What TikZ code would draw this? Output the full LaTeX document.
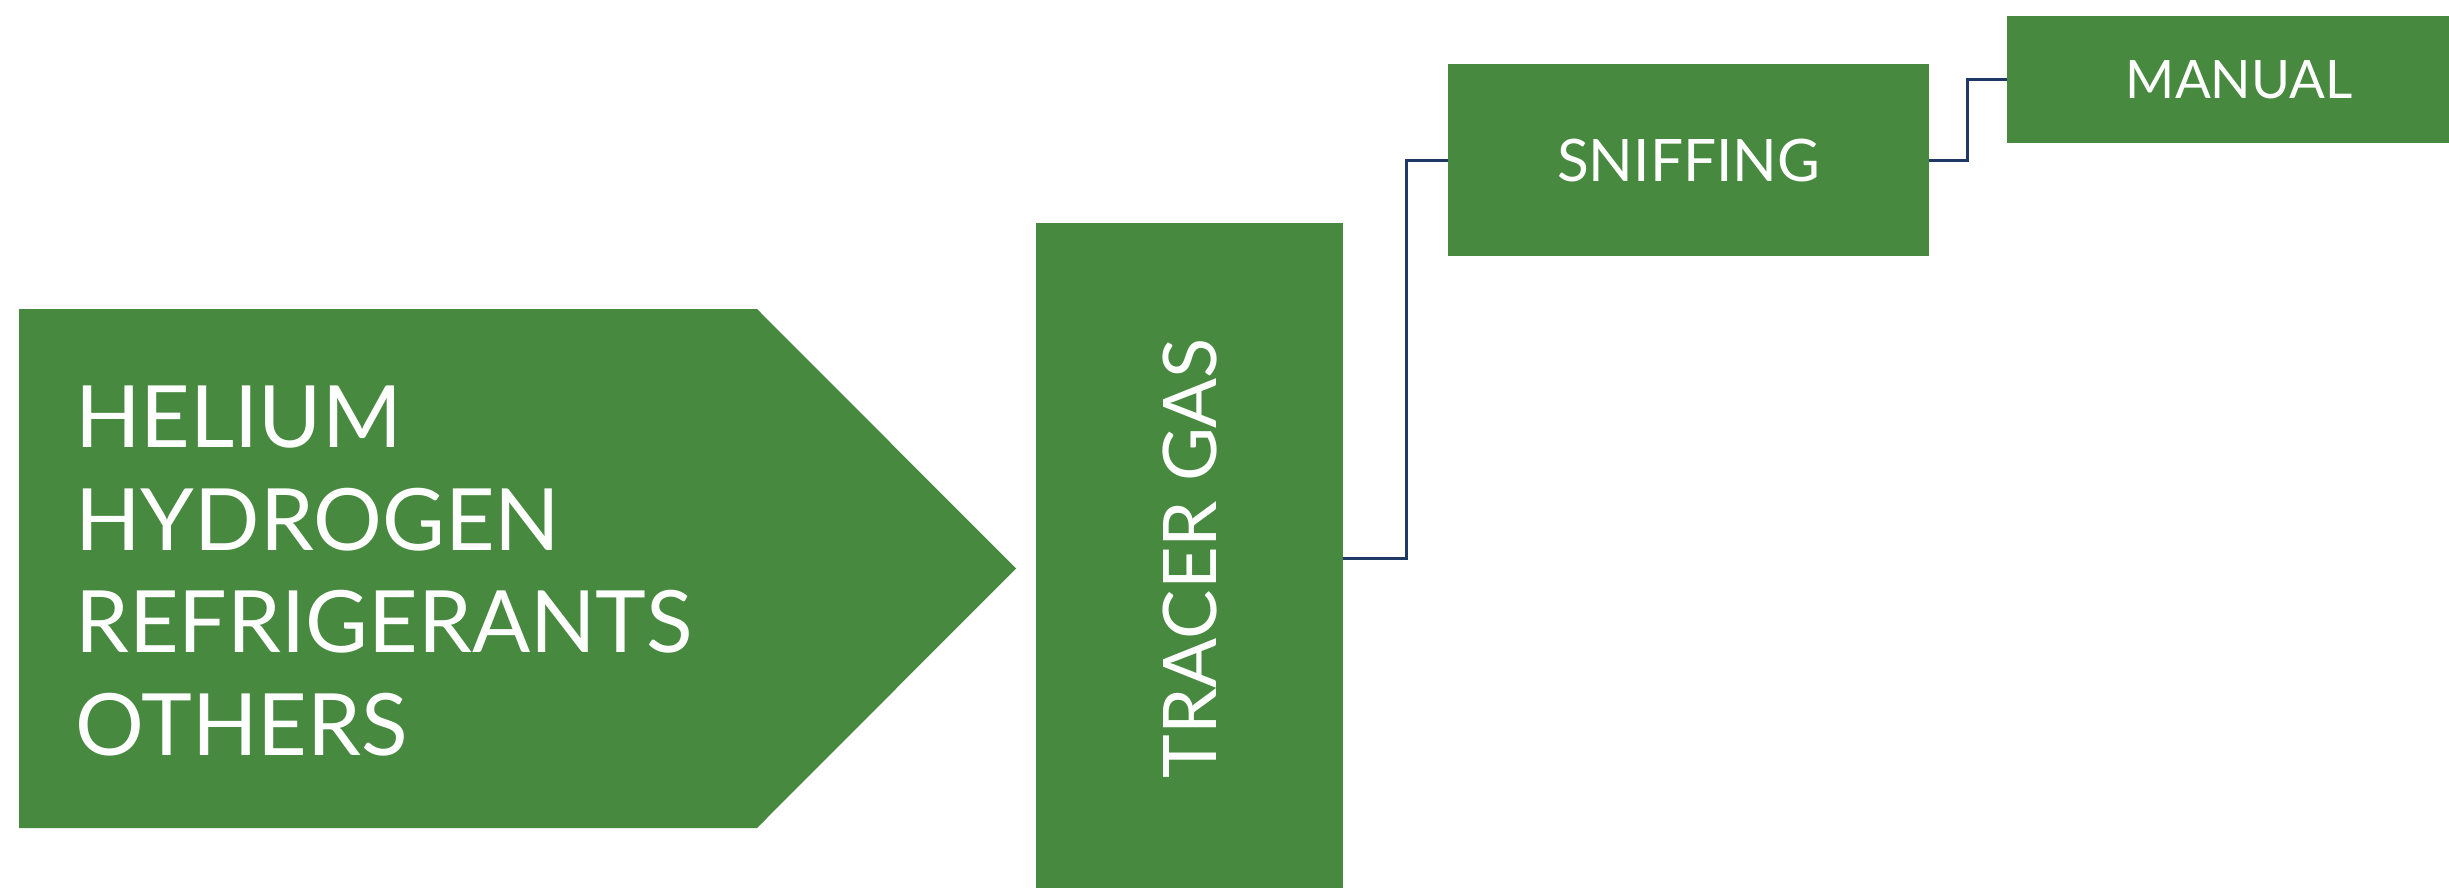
\documentclass[tikz,border=0pt]{standalone}
\usepackage{fontspec}
\setmainfont{Lato}
\definecolor{leafgreen}{HTML}{47893F}
\definecolor{navyline}{HTML}{1F3864}
\tikzset{
  greenbox/.style={rectangle, fill=leafgreen, draw=none, inner sep=0pt, anchor=north west, text=white},
  conn/.style={draw=navyline, line width=2.6pt},
  lbl/.style={text=white, inner sep=0pt}
}
\begin{document}
\begin{tikzpicture}[x=1pt, y=-1pt]
  \clip (0,0) rectangle (2449,888);
  \fill[white] (0,0) rectangle (2449,888);

  % gas types: arrow-shaped panel
  \fill[leafgreen] (19,309) -- (757,309) -- (1016,568.5) -- (757,828) -- (19,828) -- cycle;
  \node[lbl, anchor=base west, align=left, font=\fontsize{86}{102.5}\selectfont] (gases) at (75,755)
    {HELIUM\\HYDROGEN\\REFRIGERANTS\\OTHERS};

  % method boxes
  \node[greenbox, minimum width=307pt, minimum height=670pt] (tracer) at (1036,223) {};
  \node[lbl, rotate=90, font=\fontsize{74}{80}\selectfont] (tracerlbl) at (tracer.center) {TRACER GAS};

  \node[greenbox, minimum width=481pt, minimum height=192pt] (sniff) at (1448,64)
    {};
  \node[lbl, font=\fontsize{58.6}{64}\selectfont] (snifflbl) at (sniff.center) {SNIFFING};

  \node[greenbox, minimum width=464pt, minimum height=127pt] (manual) at (2007,16) {};
  \node[lbl, font=\fontsize{53}{58}\selectfont] (manuallbl) at (manual.center) {MANUAL};

  % elbow connectors
  \draw[conn] (tracer.east) -- ++(63,0) |- (sniff.west);
  \draw[conn] (sniff.east) -- ++(38,0) |- (manual.west);
\end{tikzpicture}
\end{document}
